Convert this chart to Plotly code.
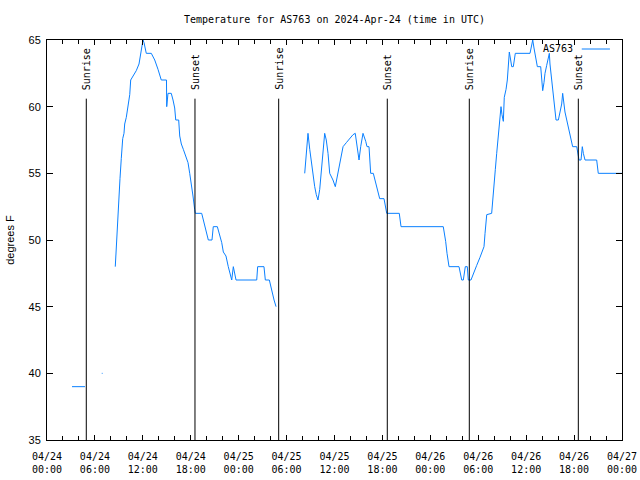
import pandas as pd
import plotly.graph_objects as go

BASE = pd.Timestamp("2024-04-24 00:00")

# hours since 2024-04-24 00:00 UTC, temperature in degrees F
seg1_h = [3.13, 4.76]
seg1_t = [39.0, 39.0]

seg2_h = [6.86, 6.96]
seg2_t = [40.0, 40.0]

seg3_h = [8.55, 8.80, 8.98, 9.14, 9.30, 9.48, 9.64, 9.73, 9.93, 10.14, 10.36, 10.48, 10.77, 11.18,
          11.52, 11.73, 11.90, 12.02, 12.15, 12.31, 12.43, 13.06, 13.49, 13.90, 14.31, 14.96, 14.99,
          15.15, 15.56, 15.78, 15.99, 16.12, 16.49, 16.62, 16.82, 17.07, 17.32, 17.66, 17.87, 18.07,
          18.28, 18.49, 18.57, 19.37, 19.57, 19.78, 19.99, 20.20, 20.66, 20.82, 21.33, 21.58, 21.88,
          22.08, 22.41, 22.70, 22.92, 23.13, 23.33, 23.54, 23.67, 26.26, 26.38, 27.17, 27.34, 27.84,
          28.01, 28.26, 28.43, 28.68]
seg3_t = [48.0, 51.3, 53.1, 54.6, 56.1, 57.6, 58.0, 58.7, 59.2, 60.0, 60.9, 62.0, 62.3, 62.7,
          63.2, 63.9, 64.4, 65.0, 64.8, 64.4, 64.0, 64.0, 63.5, 62.8, 62.0, 62.0, 60.0,
          61.0, 61.0, 60.5, 59.9, 59.0, 59.0, 57.8, 57.2, 56.8, 56.3, 55.8, 55.0, 54.3,
          53.3, 52.3, 52.0, 52.0, 51.5, 51.0, 50.5, 50.0, 50.0, 51.0, 51.0, 50.5, 49.8,
          49.1, 48.8, 48.0, 47.5, 47.0, 48.0, 47.4, 47.0, 47.0, 48.0, 48.0, 47.0, 47.0,
          46.5, 46.0, 45.5, 45.0]

seg4_h = [32.27, 32.47, 32.68, 32.90, 33.10, 33.31, 33.52, 33.72, 33.93, 34.15, 34.35, 34.56,
          34.77, 34.97, 35.19, 35.40, 35.81, 36.10, 36.35, 36.65, 36.85, 37.07, 37.48, 37.90,
          38.32, 38.60, 38.85, 39.07, 39.28, 39.57, 39.91, 40.07, 40.32, 40.53, 40.86, 41.11,
          41.36, 41.66, 42.20, 42.36, 42.54, 44.11, 44.33, 49.62, 49.75, 49.92, 50.09, 50.34,
          51.59, 51.75, 51.93, 52.13, 52.26, 52.38, 52.63, 52.75, 53.09, 53.38, 53.81, 54.22,
          54.43, 54.72, 54.85, 55.06, 55.68, 55.81, 55.97, 56.14, 56.31, 56.51, 56.72, 56.85,
          56.97, 57.14, 57.26, 57.48, 57.64, 57.76, 57.89, 58.06, 58.19, 58.39, 58.51, 58.64,
          60.48, 60.61, 60.82, 60.98, 61.19, 61.40, 61.82, 61.95, 62.07, 62.23, 62.36, 62.57,
          62.77, 62.90, 62.98, 63.20, 63.40, 63.61, 63.74, 64.03, 64.24, 64.45, 64.57, 64.65,
          64.86, 65.08, 65.28, 65.49, 65.70, 65.82, 66.33, 66.45, 66.62, 66.87, 67.03, 67.16,
          67.37, 68.83, 69.03, 72.0]
seg4_t = [55.0, 56.5, 58.0, 56.8, 55.8, 55.0, 54.0, 53.4, 53.0, 53.8, 55.3, 57.0,
          58.0, 57.5, 56.5, 55.0, 54.5, 54.0, 54.8, 55.8, 56.5, 57.0, 57.3, 57.6,
          57.9, 58.0, 57.0, 56.0, 57.0, 58.0, 57.4, 57.0, 57.0, 55.0, 55.0, 54.4,
          53.8, 53.1, 53.1, 52.5, 52.0, 52.0, 51.0, 51.0, 50.6, 49.9, 49.0, 48.0,
          48.0, 47.4, 47.0, 47.0, 47.6, 48.0, 48.0, 47.0, 47.0, 47.5, 48.1, 48.7,
          49.0, 49.5, 50.5, 51.9, 52.0, 52.8, 54.3, 55.3, 56.5, 57.8, 58.7, 60.0,
          59.4, 58.9, 60.7, 61.3, 62.0, 63.0, 64.1, 63.5, 63.0, 63.0, 63.5, 64.0,
          64.0, 64.5, 65.0, 64.4, 63.5, 63.0, 63.0, 62.0, 61.2, 61.8, 62.5, 63.1,
          63.8, 64.0, 63.2, 62.0, 60.5, 59.4, 59.0, 59.0, 59.6, 60.2, 61.0, 60.5,
          59.6, 59.0, 58.5, 57.9, 57.4, 57.0, 57.0, 56.5, 56.0, 56.0, 57.0, 56.5,
          56.0, 56.0, 55.0, 55.0]

event_h = [4.92, 18.53, 29.01, 42.61, 52.88, 66.53]
event_labels = ["Sunrise", "Sunset", "Sunrise", "Sunset", "Sunrise", "Sunset"]
event_top = 60.6
event_label_y = 61.1

tick_h = [0, 6, 12, 18, 24, 30, 36, 42, 48, 54, 60, 66, 72]
tick_labels = ["04/24<br>00:00", "04/24<br>06:00", "04/24<br>12:00", "04/24<br>18:00",
               "04/25<br>00:00", "04/25<br>06:00", "04/25<br>12:00", "04/25<br>18:00",
               "04/26<br>00:00", "04/26<br>06:00", "04/26<br>12:00", "04/26<br>18:00",
               "04/27<br>00:00"]

LINE_COLOR = "#0a80ff"
MONO = "DejaVu Sans Mono"
SANS = "Liberation Sans"


def to_time(hours):
    return [BASE + pd.Timedelta(hours=h) for h in hours]


xs, ys = [], []
for hh, tt in [(seg1_h, seg1_t), (seg2_h, seg2_t), (seg3_h, seg3_t), (seg4_h, seg4_t)]:
    xs += to_time(hh) + [None]
    ys += list(tt) + [None]

fig = go.Figure()
fig.add_trace(go.Scatter(x=xs, y=ys, mode="lines", name="AS763",
                         line=dict(color=LINE_COLOR, width=1), connectgaps=False,
                         showlegend=False))

for h, lab in zip(event_h, event_labels):
    t = BASE + pd.Timedelta(hours=h)
    fig.add_shape(type="line", xref="x", yref="y", x0=t, x1=t, y0=35, y1=event_top,
                  line=dict(color="black", width=1))
    fig.add_annotation(x=t, y=event_label_y, xref="x", yref="y", text=lab, textangle=-90,
                       showarrow=False, xanchor="center", yanchor="bottom",
                       font=dict(family=MONO, size=10, color="black"))

# legend (text left of sample line, gnuplot style)
fig.add_annotation(x=0.919, y=0.9775, xref="paper", yref="paper", text="AS763",
                   showarrow=False, xanchor="right", yanchor="middle",
                   font=dict(family=MONO, size=10, color="black"))
fig.add_shape(type="line", xref="paper", yref="paper", x0=0.93, x1=0.979, y0=0.9775, y1=0.9775,
              line=dict(color=LINE_COLOR, width=1))

fig.update_layout(
    width=640, height=480,
    margin=dict(l=47, r=18, t=40, b=40, autoexpand=False),
    paper_bgcolor="white", plot_bgcolor="white",
    title=dict(text="Temperature for AS763 on 2024-Apr-24 (time in UTC)",
               x=0.5, xref="paper", xanchor="center", y=1 - 19 / 480, yanchor="middle",
               font=dict(family=MONO, size=10, color="black")),
    xaxis=dict(type="date", automargin=False,
               range=[BASE, BASE + pd.Timedelta(hours=72)],
               tickvals=to_time(tick_h), ticktext=tick_labels,
               ticks="inside", ticklen=5, tickcolor="black", ticklabelstandoff=7,
               minor=dict(dtick=2 * 3600 * 1000, ticks="inside", ticklen=4, tickcolor="black",
                          tick0=BASE, showgrid=False),
               showline=True, linecolor="black", linewidth=1, mirror="allticks",
               showgrid=False, zeroline=False,
               tickfont=dict(family=MONO, size=10, color="black")),
    yaxis=dict(range=[35, 65], dtick=5, tick0=35, automargin=False,
               ticks="inside", ticklen=6, tickcolor="black", ticklabelstandoff=3,
               showline=True, linecolor="black", linewidth=1, mirror="allticks",
               showgrid=False, zeroline=False,
               tickfont=dict(family=SANS, size=11, color="black"),
               title=dict(text="degrees F", font=dict(family=SANS, size=11, color="black"),
                          standoff=11)),
)

fig.write_html("out.html")
